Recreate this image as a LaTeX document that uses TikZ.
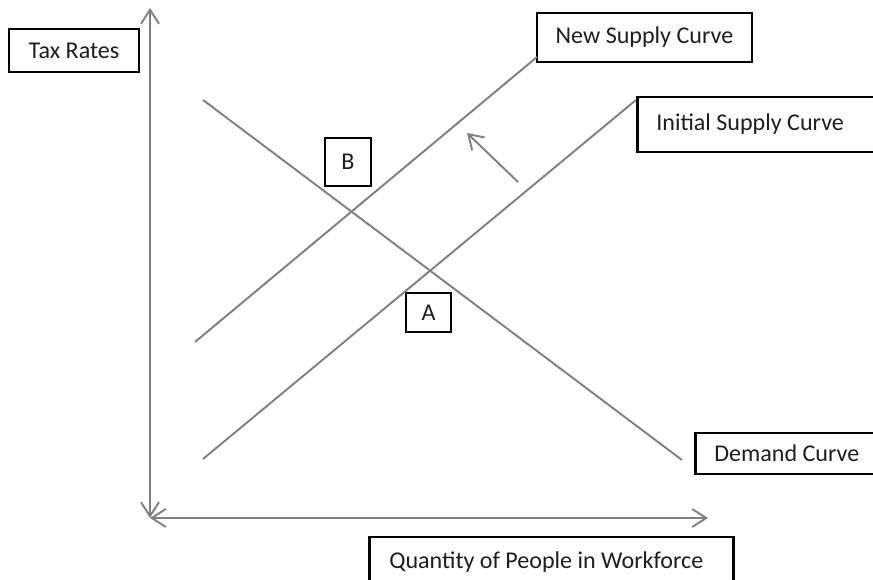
\documentclass[tikz,border=0pt]{standalone}
\usepackage{fontspec}
\setmainfont{Carlito}
\definecolor{axisgray}{RGB}{128,128,128}
\definecolor{inkdark}{RGB}{30,30,30}
\usetikzlibrary{positioning,arrows.meta}

\begin{document}
\begin{tikzpicture}[x=0.02cm,y=-0.02cm,
    curvebox/.style={rectangle,draw=black,line width=1.5pt,fill=white,text=inkdark,font=\fontsize{13.7}{16}\selectfont,inner sep=0pt},
    leftbox/.style={curvebox,anchor=west,align=flush left,inner xsep=0.38cm},
    gline/.style={axisgray,line width=1.1pt},
    barb/.tip={Straight Barb[length=2.8mm,width=3.6mm]},
    axis/.style={gline,barb-barb}
]
    \clip (0,0) rectangle (873,580);

    % axes
    \coordinate (o) at (150,518);
    \coordinate (ytop) at (150,8);
    \coordinate (xend) at (708,518);
    \draw[axis] (ytop) -- (o);
    \draw[axis] (o) -- (xend);

    % boxes
    \node[curvebox,minimum width=2.6cm,minimum height=0.86cm] (taxbox) at (74,50.5) {Tax Rates};
    \node[curvebox,minimum width=4.3cm,minimum height=0.98cm] (newbox) at (644.5,37.5) {New Supply Curve};
    \node[leftbox,text width=4.52cm,minimum height=1.1cm] (initbox) at (636,124.5) {Initial Supply Curve};
    \node[leftbox,text width=3.24cm,minimum height=0.82cm] (demandbox) at (694,453.5) {Demand Curve};
    \node[leftbox,inner xsep=0.4cm,text width=6.48cm,minimum height=1cm] (qtybox) at (368,562) {Quantity of People in Workforce};
    \node[curvebox,minimum width=0.92cm,minimum height=0.96cm] (pb) at (348,162) {B};
    \node[curvebox,minimum width=0.9cm,minimum height=0.78cm] (pa) at (428.5,312.5) {A};

    % curves
    \coordinate (d0) at (203,100);
    \coordinate (d1) at (682,460);
    \coordinate (n0) at (195,342);
    \coordinate (n1) at (537,57);
    \coordinate (i0) at (203,459);
    \coordinate (i1) at (636,100);
    \draw[gline] (d0) -- (d1);
    \draw[gline] (n0) -- (n1);
    \draw[gline] (i0) -- (i1);

    % shift of supply
    \coordinate (s0) at (518,182);
    \coordinate (s1) at (467,133);
    \draw[gline,-barb] (s0) -- (s1);
\end{tikzpicture}
\end{document}
